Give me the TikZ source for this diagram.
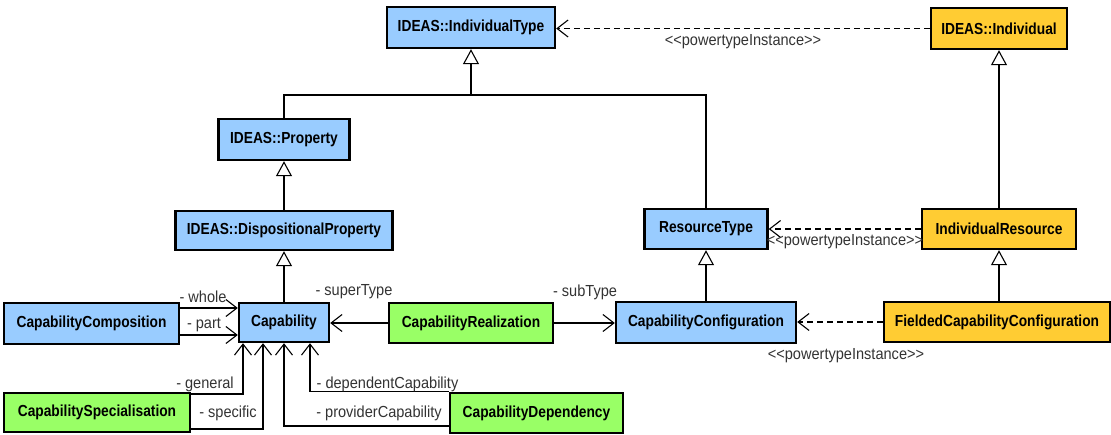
\documentclass[tikz,border=0pt]{standalone}
\usepackage{fontspec}
\setmainfont{Liberation Sans}
\newfontfamily\classfont[FakeStretch=0.86]{Liberation Sans Bold}
\newfontfamily\rolefont[FakeStretch=0.91]{Liberation Sans}
\usetikzlibrary{arrows.meta}

\definecolor{typeblue}{RGB}{153,204,255}
\definecolor{relgreen}{RGB}{153,255,102}
\definecolor{indgold}{RGB}{255,204,51}

\tikzset{
  umlbox/.style={draw=black, line width=2.4pt, inner sep=0pt,
    font=\classfont\fontsize{16}{18}\selectfont},
  bluebox/.style={umlbox, fill=typeblue},
  greenbox/.style={umlbox, fill=relgreen},
  goldbox/.style={umlbox, fill=indgold},
  genline/.style={line width=1.1pt, -{Triangle[open, length=15pt, width=16pt, line width=1.1pt]}},
  depline/.style={line width=1.1pt, dash pattern=on 6pt off 4pt,
    -{Straight Barb[length=11pt, width=17pt, line width=1.1pt]}},
  assocline/.style={line width=1.1pt,
    -{Straight Barb[length=11pt, width=17pt, line width=1.1pt]}},
  rolelbl/.style={inner sep=0pt, font=\rolefont\fontsize{16}{18}\selectfont, text=black!80}
}

\begin{document}
\begin{tikzpicture}[x=1pt, y=-1pt]
\useasboundingbox (0,0) rectangle (1111,434);

% classes
\node[bluebox, minimum width=168pt, minimum height=41pt] (IT) at (471,27.5) {IDEAS::IndividualType};
\node[goldbox, minimum width=136pt, minimum height=41pt] (Ind) at (999,28.5) {IDEAS::Individual};
\node[bluebox, minimum width=131pt, minimum height=41pt] (Prop) at (284,139.5) {IDEAS::Property};
\node[bluebox, minimum width=217pt, minimum height=39pt] (DP) at (284,230.5) {IDEAS::DispositionalProperty};
\node[bluebox, minimum width=123pt, minimum height=40pt] (RT) at (706,229) {ResourceType};
\node[goldbox, minimum width=154pt, minimum height=40pt] (IR) at (999,229) {IndividualResource};
\node[bluebox, minimum width=180pt, minimum height=41pt] (CC) at (706,322.5) {CapabilityConfiguration};
\node[goldbox, minimum width=226pt, minimum height=40pt] (FCC) at (997,322) {FieldedCapabilityConfiguration};
\node[bluebox, minimum width=90pt, minimum height=39pt] (Cap) at (284,322.5) {Capability};
\node[greenbox, minimum width=164pt, minimum height=40pt] (CR) at (471,323) {CapabilityRealization};
\node[bluebox, minimum width=175pt, minimum height=41pt] (CComp) at (91.5,323.5) {CapabilityComposition};
\node[greenbox, minimum width=186pt, minimum height=39pt] (CSpec) at (97,412.5) {CapabilitySpecialisation};
\node[greenbox, minimum width=173pt, minimum height=40pt] (CDep) at (536.5,413) {CapabilityDependency};

% generalisations
\coordinate (join) at (471,95);
\draw[line width=1.1pt] (RT.north) |- (join);
\draw[genline] (Prop.north) |- (join) -- (IT.south);
\draw[genline] (DP.north) -- (Prop.south);
\draw[genline] (Cap.north) -- (DP.south);
\draw[genline] (CC.north) -- (RT.south);
\draw[genline] (IR.north) -- (Ind.south);
\draw[genline] (FCC.north -| IR.south) -- (IR.south);

% powertype instances
\draw[depline] (Ind.west) -- (Ind.west -| IT.east);
\node[rolelbl] (pt1) at (743,42) {<{}<powertypeInstance>{}>};
\draw[depline] (IR.west) -- (RT.east);
\node[rolelbl] (pt2) at (845,242) {<{}<powertypeInstance>{}>};
\draw[depline] (FCC.west) -- (FCC.west -| CC.east);
\node[rolelbl] (pt3) at (846,356) {<{}<powertypeInstance>{}>};

% associations
\draw[assocline] (CComp.east |- 0,308) -- (Cap.west |- 0,308);
\node[rolelbl] (lwhole) at (203,297) {- whole};
\draw[assocline] (CComp.east |- 0,335) -- (Cap.west |- 0,335);
\node[rolelbl] (lpart) at (204,325) {- part};

\draw[assocline] (CR.west) -- (CR.west -| Cap.east);
\node[rolelbl] (lsuper) at (354,292) {- superType};
\draw[assocline] (CR.east) -- (CR.east -| CC.west);
\node[rolelbl] (lsub) at (585,292) {- subType};

\draw[assocline] (CSpec.east |- 0,394) -| (Cap.south -| 243,0);
\node[rolelbl] (lgen) at (205,384) {- general};
\draw[assocline] (CSpec.east |- 0,429) -| (Cap.south -| 263,0);
\node[rolelbl] (lspec) at (228,413) {- specific};

\draw[assocline] (CDep.north west) -| (Cap.south -| 310,0);
\node[rolelbl] (ldep) at (387.5,384) {- dependentCapability};
\draw[assocline] (CDep.west |- 0,426) -| (Cap.south);
\node[rolelbl] (lprov) at (379,413) {- providerCapability};
\end{tikzpicture}
\end{document}
